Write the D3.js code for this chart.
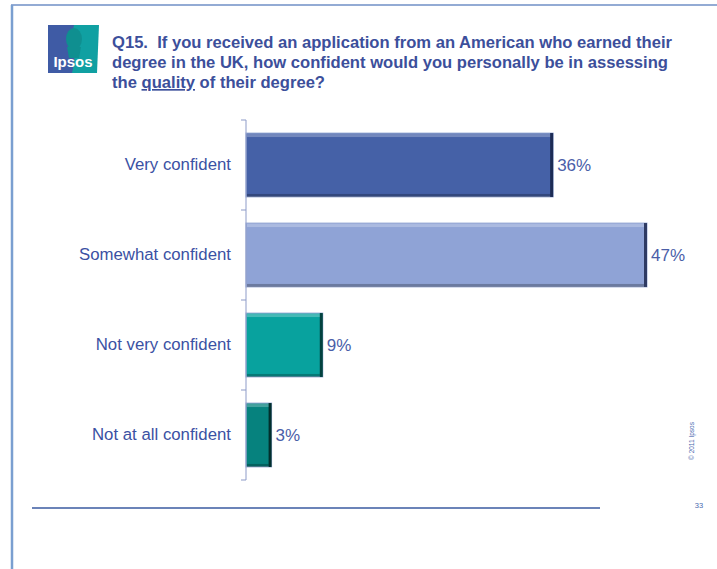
<!DOCTYPE html>
<html lang="en">
<head>
<meta charset="UTF-8">
<script src="https://cdn.jsdelivr.net/npm/d3@7/dist/d3.min.js"></script>
<title>Q15 confidence</title>
<style>
    body { margin: 0; background: white; }
    text { font-family: Arial, "Liberation Sans", sans-serif; }
    .title tspan { white-space: pre; }
</style>
</head>
<body>
<div id="chart"></div>
<script>
    // data
    const categories = ["Very confident", "Somewhat confident", "Not very confident", "Not at all confident"];
    const values = [36, 47, 9, 3];
    const barColors = ["#4561a7", "#8fa3d6", "#08a29e", "#06827e"];
    const edgeColors = ["#1d2c55", "#2f3b63", "#03413f", "#022f2d"];
    const titleLines = [
        "Q15.  If you received an application from an American who earned their",
        "degree in the UK, how confident would you personally be in assessing"
    ];

    const W = 717, H = 569;
    const svg = d3.select("#chart").append("svg")
        .attr("width", W).attr("height", H);

    // slide frame
    svg.append("line").attr("x1", 11).attr("x2", W).attr("y1", 5).attr("y2", 5)
        .attr("stroke", "#6f8fc6").attr("stroke-width", 1.5);
    svg.append("line").attr("x1", 12).attr("x2", 12).attr("y1", 5).attr("y2", H)
        .attr("stroke", "#7a9fd0").attr("stroke-width", 2.5);

    /*---------------- logo ----------------*/
    const logo = svg.append("g").attr("transform", "translate(48,25)");
    logo.append("path").attr("d", "M0,0 H51 L49,48 H0 Z").attr("fill", "#10a0a2");
    logo.append("path").attr("d", "M0,0 H26 C22,16 30,28 24,48 H0 Z").attr("fill", "#3f5ba5");
    logo.append("ellipse").attr("cx", 26).attr("cy", 14).attr("rx", 8).attr("ry", 11).attr("fill", "#0f8f90");
    logo.append("path").attr("d", "M19,22 L33,22 L31,33 L21,33 Z").attr("fill", "#0f8f90");
    logo.append("text").attr("x", 25).attr("y", 42).attr("text-anchor", "middle")
        .attr("fill", "white").attr("font-size", 15).attr("font-weight", "bold").text("Ipsos");

    /*---------------- title ----------------*/
    const title = svg.append("text").attr("class", "title").attr("fill", "#3c4f9b")
        .attr("font-size", 16.6).attr("font-weight", "bold");
    title.append("tspan").attr("x", 112).attr("y", 48).text(titleLines[0]);
    title.append("tspan").attr("x", 112).attr("y", 68).text(titleLines[1]);
    const t3 = title.append("tspan").attr("x", 112).attr("y", 88);
    t3.append("tspan").text("the ");
    t3.append("tspan").attr("text-decoration", "underline").text("quality");
    t3.append("tspan").text(" of their degree?");

    /*---------------- bars ----------------*/
    const x0 = 246, yTop = 120, yBottom = 480;
    const x = d3.scaleLinear().domain([0, 47]).range([x0, 647]);
    const y = d3.scaleBand().domain(categories).range([yTop, yBottom]).paddingInner(0.29).paddingOuter(0.145);

    const bars = svg.append("g").selectAll("g").data(categories).join("g");
    bars.append("rect")
        .attr("x", x0).attr("y", d => y(d))
        .attr("width", (d, i) => x(values[i]) - x0).attr("height", y.bandwidth())
        .attr("fill", (d, i) => barColors[i])
        .attr("stroke", "#9fb0d8").attr("stroke-width", 1);
    // dark right edge and bevels
    bars.append("rect")
        .attr("x", (d, i) => x(values[i]) - 3).attr("y", d => y(d))
        .attr("width", 3).attr("height", y.bandwidth())
        .attr("fill", (d, i) => edgeColors[i]);
    bars.append("rect")
        .attr("x", x0 + 1).attr("y", d => y(d) + 1)
        .attr("width", (d, i) => x(values[i]) - x0 - 4).attr("height", 3)
        .attr("fill", "white").attr("opacity", 0.25);
    bars.append("rect")
        .attr("x", x0 + 1).attr("y", d => y(d) + y.bandwidth() - 3)
        .attr("width", (d, i) => x(values[i]) - x0 - 4).attr("height", 3)
        .attr("fill", "black").attr("opacity", 0.25);

    bars.append("text")
        .attr("x", (d, i) => x(values[i]) + 4)
        .attr("y", d => y(d) + y.bandwidth() / 2 + 6)
        .attr("fill", "#4a5ea8").attr("font-size", 17)
        .text((d, i) => values[i] + "%");

    // category axis
    const axis = d3.axisLeft(y).tickSize(0).tickPadding(15);
    const ax = svg.append("g").attr("transform", `translate(${x0},0)`).call(axis);
    ax.select(".domain").remove();
    ax.selectAll("text").attr("fill", "#3b51a3").attr("font-size", 16.8)
        .attr("font-family", "Arial, 'Liberation Sans', sans-serif");
    svg.append("line").attr("x1", x0).attr("x2", x0).attr("y1", yTop).attr("y2", yBottom)
        .attr("stroke", "#8d9bc8").attr("stroke-width", 1);
    const tickYs = categories.map(d => y(d) - y.step() * y.paddingInner() / 2).concat([yBottom]);
    svg.selectAll(".sep").data(tickYs).join("line").attr("class", "sep")
        .attr("x1", x0 - 5).attr("x2", x0).attr("y1", d => d).attr("y2", d => d)
        .attr("stroke", "#8d9bc8").attr("stroke-width", 1);

    /*---------------- footer ----------------*/
    svg.append("line").attr("x1", 32).attr("x2", 600).attr("y1", 508).attr("y2", 508)
        .attr("stroke", "#3a5aa0").attr("stroke-width", 1.5);
    svg.append("text").attr("x", 699).attr("y", 508).attr("text-anchor", "middle")
        .attr("fill", "#4a6ab0").attr("font-size", 7.5).text("33");
    svg.append("text").attr("transform", "translate(694,441) rotate(-90)")
        .attr("text-anchor", "middle").attr("fill", "#4a6ab0").attr("font-size", 6.5)
        .text("© 2011 Ipsos");
</script>
</body>
</html>
